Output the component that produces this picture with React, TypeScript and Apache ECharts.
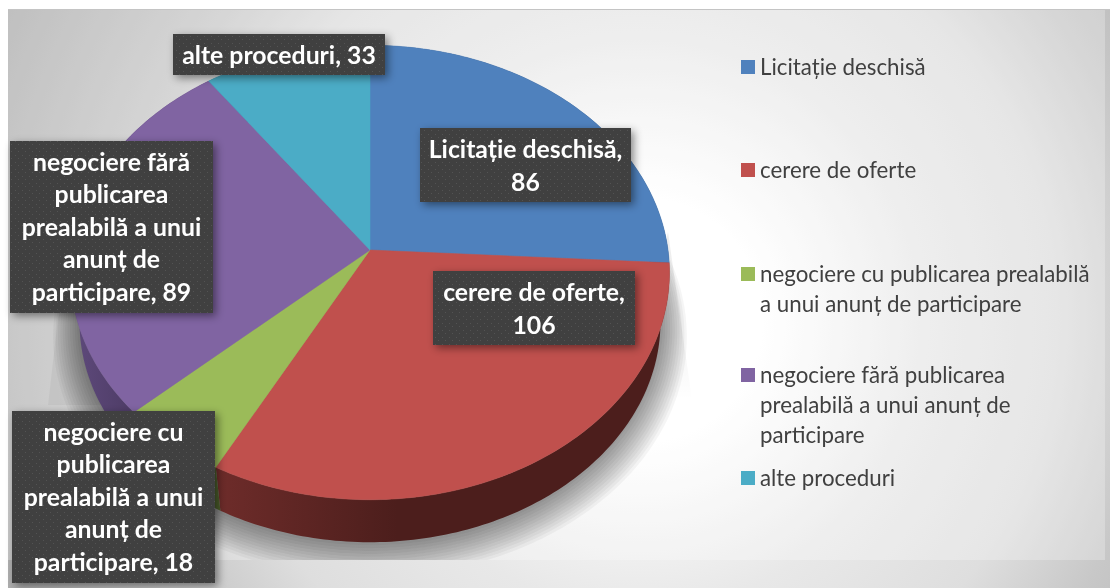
import React, { useEffect, useRef } from "react";
import * as echarts from "echarts";

const categories = [
  "Licitație deschisă",
  "cerere de oferte",
  "negociere cu publicarea prealabilă a unui anunț de participare",
  "negociere fără publicarea prealabilă a unui anunț de participare",
  "alte proceduri",
];
const values = [86, 106, 18, 89, 33];
const faceColors = ["#4f81bd", "#c0504d", "#9bbb59", "#8064a2", "#4bacc6"];
const wallLeft = ["#3a5f8c", "#6e2c2a", "#55692f", "#5f4a7c", "#2f7c90"];
const wallRight = ["#2b4668", "#4c1e1c", "#4a5c2a", "#4f3d68", "#276a7c"];
const labelLines = [
  ["Licitație deschisă,", "86"],
  ["cerere de oferte,", "106"],
  ["negociere cu", "publicarea", "prealabilă a unui", "anunț de", "participare, 18"],
  ["negociere fără", "publicarea", "prealabilă a unui", "anunț de", "participare, 89"],
  ["alte proceduri, 33"],
];
const legendLines = [
  ["Licitație deschisă"],
  ["cerere de oferte"],
  ["negociere cu publicarea prealabilă", "a unui anunț de participare"],
  ["negociere fără publicarea", "prealabilă a unui anunț de", "participare"],
  ["alte proceduri"],
];

// layout
const labelBoxes = [
  [420, 128, 211, 74],
  [433, 271, 202, 74],
  [12, 411, 203, 172],
  [10, 141, 203, 172],
  [173, 34, 212, 41],
];
const legendRowY = [67, 170, 274, 375, 478];
const CX = 370, CY = 250, RX = 298, RY = 225, PERSP = 0.099;
const DEPTH = 50, BOTTOM_SCALE = 0.97;
const SHADOW_STEPS = 12;

const total = values.reduce((a, b) => a + b, 0);
const starts: number[] = [];
values.reduce((acc, v, i) => { starts[i] = acc; return acc + v; }, 0);

function proj(theta: number, s = 1, dy = 0, ox = 0): number[] {
  const cy = -Math.cos(theta);
  const d = 1 - PERSP * cy;
  return [CX + ox + (s * RX * Math.sin(theta)) / d, CY + dy + (s * RY * cy) / d];
}
function arc(a0: number, a1: number, s = 1, dy = 0, ox = 0): number[][] {
  const n = Math.max(2, Math.ceil(((a1 - a0) * 180) / Math.PI));
  const pts: number[][] = [];
  for (let i = 0; i <= n; i++) pts.push(proj(a0 + ((a1 - a0) * i) / n, s, dy, ox));
  return pts;
}
function angles(i: number): number[] {
  const a0 = (starts[i] / total) * Math.PI * 2;
  return [a0, a0 + (values[i] / total) * Math.PI * 2];
}

const renderShadow = () => {
  const children: any[] = [
    {
      type: "polygon",
      shape: { points: [[668, 232], [692, 400], [630, 400]] },
      style: {
        fill: new echarts.graphic.LinearGradient(0, 0, 0, 1, [
          { offset: 0, color: "rgba(0,0,0,0.07)" },
          { offset: 0.6, color: "rgba(0,0,0,0.05)" },
          { offset: 1, color: "rgba(0,0,0,0)" },
        ]),
      },
    },
    {
      type: "polygon",
      shape: { points: [[60, 300], [48, 405], [120, 405], [120, 300]] },
      style: { fill: "rgba(0,0,0,0.04)" },
    },
  ];
  for (let k = 0; k < SHADOW_STEPS; k++) {
    children.push({
      type: "polygon",
      shape: { points: arc(0, Math.PI * 2, BOTTOM_SCALE + k * 0.008, DEPTH + 3 + k * 0.9) },
      style: { fill: "rgba(0,0,0,0.04)" },
    });
  }
  return { type: "group", children };
};
const renderWall = (_p: any, api: any) => {
  const i = api.value(1);
  const [a0, a1] = angles(i);
  const top = arc(a0, a1);
  const bottom = arc(a0, a1, BOTTOM_SCALE, DEPTH).reverse();
  return {
    type: "polygon",
    shape: { points: top.concat(bottom) },
    style: {
      fill: new echarts.graphic.LinearGradient(
        0, 0, 1, 0,
        [{ offset: 0, color: wallLeft[i] }, { offset: 0.4, color: wallRight[i] }, { offset: 1, color: wallRight[i] }],
      ),
    },
  };
};
const renderFace = (_p: any, api: any) => {
  const i = api.value(1);
  const [a0, a1] = angles(i);
  const pts = [[CX, CY]].concat(arc(a0, a1));
  return {
    type: "polygon",
    shape: { points: pts },
    style: { fill: faceColors[i], stroke: faceColors[i], lineWidth: 0.5 },
  };
};

export default function App() {
  const ref = useRef<HTMLDivElement>(null);
  useEffect(() => {
    const cv = document.createElement("canvas");
    cv.width = 7; cv.height = 7;
    const g = cv.getContext("2d")!;
    g.fillStyle = "#3f3f3f"; g.fillRect(0, 0, 7, 7);
    g.fillStyle = "#525252"; g.fillRect(1, 1, 1, 1); g.fillRect(4, 4, 1, 1);
    const pattern = { image: cv, repeat: "repeat" };

    const renderLabel = (_p: any, api: any) => {
      const i = api.value(1);
      const [x, y, w, h] = labelBoxes[i];
      return {
        type: "group",
        children: [
          {
            type: "rect",
            shape: { x, y, width: w, height: h },
            style: { fill: pattern, shadowBlur: 8, shadowOffsetX: 3, shadowOffsetY: 3, shadowColor: "rgba(0,0,0,0.45)" },
          },
          {
            type: "text",
            style: {
              x: x + w / 2,
              y: y + h / 2 - (h > 100 ? 1 : 0),
              text: labelLines[i].join("\n"),
              fill: "#ffffff",
              font: "bold 24.8px Lato",
              align: "center",
              verticalAlign: "middle",
              lineHeight: 32.5,
            },
          },
        ],
      };
    };

    const data = values.map((v, i) => ({ name: categories[i], value: [v, i] }));
    const custom = (name: string, z: number, renderItem: any, d: any = data) => ({
      type: "custom", name, coordinateSystem: "none", z, silent: true, renderItem, data: d,
      encode: { value: [0] },
    });

    const outerFill = {
      type: "radial", x: 640, y: 320, r: 720, global: true,
      colorStops: [
        { offset: 0, color: "#ffffff" },
        { offset: 0.17, color: "#ffffff" },
        { offset: 0.4, color: "#e8e8e8" },
        { offset: 0.58, color: "#dedede" },
        { offset: 0.72, color: "#c8c8c8" },
        { offset: 1, color: "#a8a8a8" },
      ],
    };

    const legendEls: any[] = [];
    categories.forEach((_c, i) => {
      legendEls.push({
        type: "rect", z: 5,
        shape: { x: 741, y: legendRowY[i] - 7, width: 14, height: 14 },
        style: { fill: faceColors[i] },
      });
      legendLines[i].forEach((line, j) => {
        legendEls.push({
          type: "text", z: 5, x: 760, y: legendRowY[i] - 1 + j * 30,
          style: { text: line, fill: "#404040", font: "22.3px Lato", verticalAlign: "middle", align: "left" },
        });
      });
    });

    const chart = echarts.init(ref.current!, null, { renderer: "svg" });
    chart.setOption({
      animation: false,
      graphic: [
        { type: "rect", z: -3, shape: { x: 8, y: 9, width: 1102, height: 579 }, style: { fill: outerFill } },
        { type: "rect", z: -2, shape: { x: 8, y: 10, width: 1097, height: 550 }, style: { fill: "rgba(255,255,255,0.25)" } },
        { type: "rect", z: 1, shape: { x: 8, y: 560, width: 1102, height: 28 }, style: { fill: outerFill } },
        { type: "line", z: 1, shape: { x1: 8, y1: 9.5, x2: 1110, y2: 9.5 }, style: { stroke: "#c4c4c4", lineWidth: 1 } },
        ...legendEls,
      ],
      series: [
        custom("shadow", 0, renderShadow, [{ value: [0, 0] }]),
        custom("walls", 2, renderWall),
        custom("faces", 3, renderFace),
        custom("labels", 4, renderLabel),
      ],
    });
    return () => chart.dispose();
  }, []);
  return <div ref={ref} style={{ position: "fixed", left: 0, top: 0, width: 1110, height: 588 }} />;
}
